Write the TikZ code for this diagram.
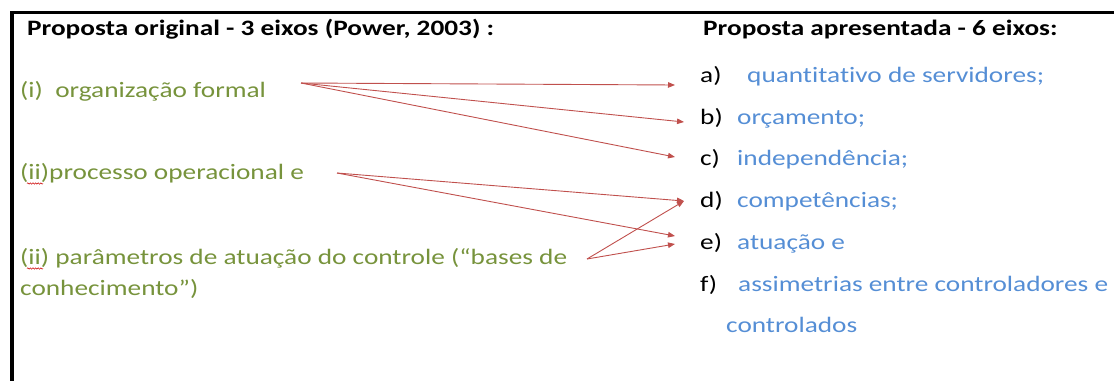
\documentclass[tikz,border=0pt]{standalone}
\usepackage{fontspec}
\setmainfont{Carlito}[FakeStretch=1.24,Ligatures=NoCommon]
\usetikzlibrary{arrows.meta,decorations.pathmorphing}
\definecolor{olivetext}{HTML}{77933C}
\definecolor{bluetext}{HTML}{558ED5}
\definecolor{arrowred}{HTML}{C0504D}
\tikzset{
  txt/.style={anchor=base west,inner sep=0pt,font=\fontsize{22}{26}\selectfont},
  head/.style={txt,font=\fontsize{22}{26}\selectfont\bfseries,text=black},
  orig/.style={txt,text=olivetext},
  item/.style={txt,text=black},
  axis/.style={txt,text=bluetext},
  link/.style={draw=arrowred,line width=0.9pt,-{Triangle[length=7pt,width=5.5pt]}},
  squiggle/.style={draw=red!80!black,line width=0.5pt,decorate,
    decoration={snake,amplitude=0.7pt,segment length=2.6pt}},
}
\begin{document}
\begin{tikzpicture}[x=1pt,y=-1pt]
\useasboundingbox (0,0) rectangle (1114,381);
% frame: top rule and left rule
\draw[line width=3.5pt] (10,12.5) -- (1114,12.5);
\draw[line width=4pt] (12,12) -- (12,381);

% headings
\node[head] (hl) at (27,35) {Proposta original - 3 eixos (Power, 2003) :};
\node[head] (hr) at (703,35) {Proposta apresentada - 6 eixos:};

% original three axes
\node[orig] (o1) at (20,97) {(i)\ \ organização formal};
\node[orig] (o2) at (20,179) {(ii)processo operacional e};
\node[orig] (o3) at (20,264) {(ii) parâmetros de atuação do controle (“bases de};
\node[orig] (o3b) at (20,295) {conhecimento”)};
\draw[squiggle] (27,183.5) -- (43,183.5);
\draw[squiggle] (27,268.5) -- (43,268.5);

% proposed six axes
\node[item] (la) at (700,82) {a)};
\node[axis] (ta) at (747,82) {quantitativo de servidores;};
\node[item] (lb) at (700,124) {b)};
\node[axis] (tb) at (737,124) {orçamento;};
\node[item] (lc) at (700,165) {c)};
\node[axis] (tc) at (737,165) {independência;};
\node[item] (ld) at (700,207) {d)};
\node[axis] (td) at (737,207) {competências;};
\node[item] (le) at (700,249) {e)};
\node[axis] (te) at (737,249) {atuação e};
\node[item] (lf) at (700,291) {f)};
\node[axis] (tf) at (738,291) {assimetrias entre controladores e};
\node[axis] (tf2) at (726,332) {controlados};

% connector ends
\coordinate (s1) at (301,83);
\coordinate (s2) at (337,173);
\coordinate (s3) at (587,259);
\coordinate (ea) at (675,85);
\coordinate (eb) at (684,122);
\coordinate (ec) at (675,157);
\coordinate (ed) at (684,201);
\coordinate (ee) at (675,236);
\coordinate (ee2) at (675,244);

\draw[link] (s1) -- (ea);
\draw[link] (s1) -- (eb);
\draw[link] (s1) -- (ec);
\draw[link] (s2) -- (ed);
\draw[link] (s2) -- (ee);
\draw[link] (s3) -- (ed);
\draw[link] (s3) -- (ee2);
\end{tikzpicture}
\end{document}
